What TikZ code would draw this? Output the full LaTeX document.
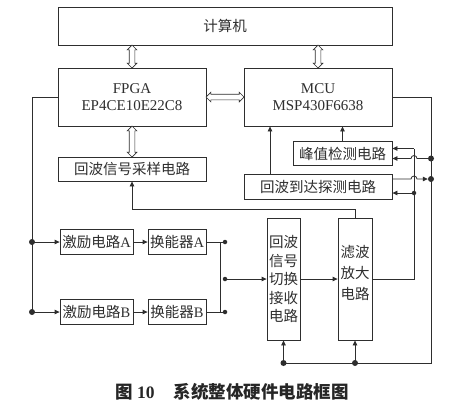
\documentclass[tikz,border=0pt]{standalone}
\usepackage{fontspec}
\setmainfont{Liberation Serif}
\newfontfamily\cjk{Noto Sans CJK SC}
\usetikzlibrary{arrows.meta,shapes.arrows,calc}
\definecolor{linec}{HTML}{2E2E2E}
\begin{document}
\begin{tikzpicture}[x=1pt,y=-1pt,
  box/.style={draw=linec, line width=0.8pt, inner sep=0pt, text=linec, align=center, font=\fontsize{14.5}{17}\selectfont},
  ln/.style={draw=linec, line width=0.8pt},
  ar/.style={draw=linec, line width=0.8pt, -{Triangle[length=5pt,width=4.5pt]}},
  dot/.style={circle, fill=linec, inner sep=0pt, minimum size=6pt},
  sdot/.style={circle, fill=linec, inner sep=0pt, minimum size=4.5pt},
  darr/.style={double arrow, draw=linec, fill=white, line width=0.7pt, inner xsep=0pt, inner ysep=2.5pt, double arrow head extend=2pt, minimum width=0pt}
]
\useasboundingbox (0,0) rectangle (462,405);
% boxes
\node[box, minimum width=334pt, minimum height=38pt] (pc) at (225,26) {\cjk 计算机};
\node[box, minimum width=148pt, minimum height=58pt, font=\fontsize{15}{17}\selectfont] (fpga) at (132,97) {FPGA\\EP4CE10E22C8};
\node[box, minimum width=148pt, minimum height=58pt, font=\fontsize{15}{17}\selectfont] (mcu) at (318,97) {MCU\\MSP430F6638};
\node[box, minimum width=148pt, minimum height=24pt] (samp) at (132,169) {\cjk 回波信号采样电路};
\node[box, minimum width=99pt, minimum height=24pt] (peak) at (342.5,153.5) {\cjk 峰值检测电路};
\node[box, minimum width=148pt, minimum height=25pt] (arr) at (318,186.5) {\cjk 回波到达探测电路};
\node[box, minimum width=73pt, minimum height=25pt] (exA) at (96.5,242) {{\cjk 激励电路}A};
\node[box, minimum width=58pt, minimum height=25pt] (trA) at (177,242) {{\cjk 换能器}A};
\node[box, minimum width=73pt, minimum height=25pt] (exB) at (96.5,312) {{\cjk 激励电路}B};
\node[box, minimum width=58pt, minimum height=25pt] (trB) at (177,312) {{\cjk 换能器}B};
\node[box, minimum width=33pt, minimum height=122pt, font=\fontsize{14.5}{18.5}\selectfont] (sw) at (283.5,279) {\cjk 回波\\\cjk 信号\\\cjk 切换\\\cjk 接收\\\cjk 电路};
\node[box, minimum width=34pt, minimum height=122pt,
  label={[font=\fontsize{14.5}{21}\selectfont, text=linec, align=center, yshift=6pt]center:{\cjk 滤波\\\cjk 放大\\\cjk 电路}}] (filt) at (355,279) {};
% double arrows
\node[darr, rotate=90, minimum height=23pt] (d1) at ($(pc.south -| fpga)!0.5!(fpga.north)$) {};
\node[darr, rotate=90, minimum height=23pt] (d2) at ($(pc.south -| mcu)!0.5!(mcu.north)$) {};
\node[darr, minimum height=38pt] (d3) at ($(fpga.east)!0.5!(mcu.west)$) {};
\node[darr, rotate=90, minimum height=31pt] (d4) at ($(fpga.south)!0.5!(samp.north)$) {};
% left bus
\node[dot] (jA) at (32,242) {};
\node[dot] (jB) at (32,312) {};
\draw[ln] (fpga.west) -| (jB.center);
\draw[ar] (jA.center) -- (exA.west);
\draw[ar] (jB.center) -- (exB.west);
\draw[ar] (exA) -- (trA);
\draw[ar] (exB) -- (trB);
% switch
\node[sdot] (tA) at (225,242) {};
\node[sdot] (tB) at (225,312) {};
\node[sdot] (tM) at (225,279) {};
\coordinate (vA) at (220.5,242);
\coordinate (vB) at (220.5,312);
\draw[ln] (trA.east) -- (tA.center);
\draw[ln] (trB.east) -- (tB.center);
\draw[ln] (vA) -- (vB);
\draw[ar] (tM.center) -- (sw.west);
\draw[ar] (sw) -- (filt);
% feedback to sampling
\coordinate (tl) at (132,209);
\draw[ar] (filt.north) |- (tl) -- (samp.south);
% MCU inputs
\draw[ar] ([xshift=-48pt]arr.north) -- ([xshift=-48pt]mcu.south);
\draw[ar] (peak.north) -- (peak.north |- mcu.south);
% filter output bus x=414
\coordinate (r1) at (414,148.5);
\node[sdot] (r2) at (414,193) {};
\draw[ln] (filt.east) -| (r1);
\draw[ar] (r1) -- (peak.east |- r1);
\draw[ar] (r2.center) -- (arr.east |- r2);
% MCU bus x=431
\coordinate (m1) at (431,97);
\coordinate (m2) at (431,363);
\node[dot] (b1) at (283.5,363) {};
\node[dot] (b2) at (355,363) {};
\node[dot] (k1) at (431,158.5) {};
\node[dot] (k2) at (431,179) {};
\draw[ln] (mcu.east) -- (m1) -- (m2) -- (b1.center);
\draw[ar] (b1.center) -- (sw.south);
\draw[ar] (b2.center) -- (filt.south);
\draw[ar] (k1.center) -- (417,158.5) arc[start angle=0, end angle=180, radius=3pt] -- (peak.east |- k1);
\draw[ar] (arr.east |- k2) -- (411,179) arc[start angle=180, end angle=0, radius=3pt] -- (k2);
% caption
\node[text=black!85, inner sep=0pt] (cap) at (232,392) {\fontsize{17.5}{20}\selectfont\bfseries{\cjk\bfseries 图}\hspace{4pt}10\hspace{19pt}{\cjk\bfseries 系统整体硬件电路框图}};
\end{tikzpicture}
\end{document}
